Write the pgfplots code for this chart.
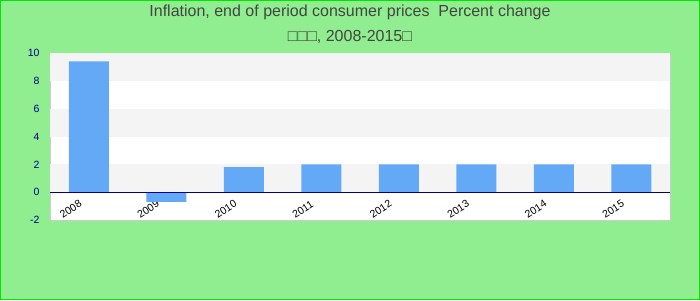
\documentclass[border=0pt]{standalone}
\usepackage{pgfplots}
\pgfplotsset{compat=1.18}
\usepackage{fontspec}
\setmainfont{Liberation Sans}
\definecolor{bg}{RGB}{144,238,144}
\definecolor{bord}{RGB}{0,230,0}
\definecolor{barc}{RGB}{99,169,245}
\definecolor{band}{RGB}{244,244,244}
\definecolor{tickc}{RGB}{0,0,139}
\definecolor{titlec}{RGB}{68,68,68}
\definecolor{frame}{RGB}{204,204,204}
\begin{document}
\begin{tikzpicture}
\fill[bg] (0,0) rectangle (700pt,300pt);
\draw[bord, line width=1pt] (0.5pt,0.5pt) rectangle (699.5pt,299.5pt);
\node[text=titlec, font=\fontsize{16}{18}\selectfont, inner sep=0pt] at (350pt,288pt) {Inflation, end of period consumer prices\ \ Percent change};
\node[text=titlec, font=\fontsize{16}{18}\selectfont, inner sep=0pt] at (350pt,263pt) {□□□, 2008-2015□};
\begin{axis}[
  at={(50pt,80pt)}, anchor=south west,
  width=620pt, height=167pt, scale only axis,
  xmin=-0.5, xmax=7.5, ymin=-2, ymax=10,
  ytick={-2,0,2,4,6,8,10},
  xtick={0,1,2,3,4,5,6,7},
  xticklabels={2008,2009,2010,2011,2012,2013,2014,2015},
  axis line style={draw=frame},
  major tick length=0pt,
  axis background/.style={fill=white},
  /pgf/number format/assume math mode=true,
  yticklabel style={text=tickc, font=\fontsize{10.5}{12}\selectfont, xshift=-7pt},
  xticklabel style={text=black, font=\fontsize{10.5}{12}\selectfont, anchor=base west, xshift=-26pt, yshift=1.5pt, rotate=33, inner sep=0pt},
  ybar, bar width=40pt,
]
\fill[band] (axis cs:-0.5,8) rectangle (axis cs:7.5,10);
\fill[band] (axis cs:-0.5,4) rectangle (axis cs:7.5,6);
\fill[band] (axis cs:-0.5,0) rectangle (axis cs:7.5,2);
\addplot[fill=barc, draw=none] coordinates {(0,9.4) (1,-0.7) (2,1.8) (3,2.0) (4,2.0) (5,2.0) (6,2.0) (7,2.0)};
\draw[tickc, line width=1pt] (axis cs:-0.5,0) -- (axis cs:7.5,0);
\end{axis}
\end{tikzpicture}
\end{document}
